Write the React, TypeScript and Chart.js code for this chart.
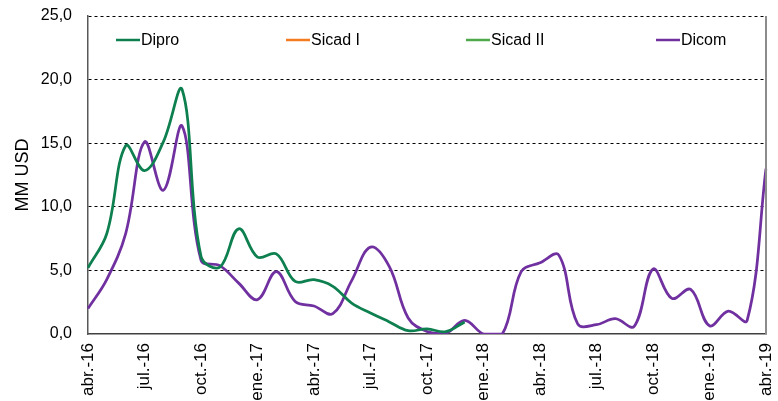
import React, { useEffect, useRef } from "react";
import { Chart, registerables } from "chart.js";

Chart.register(...registerables);

const months = [
  "abr.-16", "may.-16", "jun.-16", "jul.-16", "ago.-16", "sep.-16", "oct.-16", "nov.-16", "dic.-16",
  "ene.-17", "feb.-17", "mar.-17", "abr.-17", "may.-17", "jun.-17", "jul.-17", "ago.-17", "sep.-17",
  "oct.-17", "nov.-17", "dic.-17", "ene.-18", "feb.-18", "mar.-18", "abr.-18", "may.-18", "jun.-18",
  "jul.-18", "ago.-18", "sep.-18", "oct.-18", "nov.-18", "dic.-18", "ene.-19", "feb.-19", "mar.-19",
  "abr.-19",
];

const shownTicks = ["abr.-16", "jul.-16", "oct.-16", "ene.-17", "abr.-17", "jul.-17", "oct.-17", "ene.-18",
  "abr.-18", "jul.-18", "oct.-18", "ene.-19", "abr.-19"];

const dipro: (number | null)[] = [
  5.2, 7.9, 14.8, 12.85, 15.1, 19.2, 6.1, 5.26, 8.27, 6.05, 6.3, 4.13, 4.27, 3.75, 2.43, 1.65, 0.95,
  0.26, 0.4, 0.18, 0.95,
  null, null, null, null, null, null, null, null, null, null, null, null, null, null, null, null,
];

const sicadI: (number | null)[] = [];
const sicadII: (number | null)[] = [];

const dicom: (number | null)[] = [
  2.0, 4.3, 7.9, 15.1, 11.3, 16.35, 5.8, 5.37, 4.0, 2.7, 4.9, 2.56, 2.2, 1.6, 4.2, 6.83, 5.3, 1.26,
  0.2, 0.05, 1.07, 0, 0, 4.9, 5.6, 6.2, 0.8, 0.73, 1.2, 0.6, 5.1, 2.8, 3.5, 0.65, 1.8, 1.07, 13.0,
];

const seriesNames = ["Dipro", "Sicad I", "Sicad II", "Dicom"];
const seriesColors = ["#0E8050", "#F47B20", "#4FA84A", "#7030A0"];

const FONT = "'Liberation Sans', Arial, sans-serif";

const legendPlugin = {
  id: "insideLegend",
  afterDraw(chart: any) {
    const { ctx, chartArea } = chart;
    const offsets = [28, 198, 378, 568];
    const y = chartArea.top + 24;
    ctx.save();
    ctx.strokeStyle = "#8c8c8c";
    ctx.lineWidth = 2;
    ctx.beginPath();
    ctx.moveTo(chartArea.right, chartArea.top);
    ctx.lineTo(chartArea.right, chartArea.bottom);
    ctx.stroke();
    ctx.font = `16px ${FONT}`;
    ctx.textBaseline = "middle";
    ctx.textAlign = "left";
    seriesNames.forEach((name, i) => {
      const x = chartArea.left + offsets[i];
      ctx.strokeStyle = seriesColors[i];
      ctx.lineWidth = 2.5;
      ctx.beginPath();
      ctx.moveTo(x, y);
      ctx.lineTo(x + 24, y);
      ctx.stroke();
      ctx.fillStyle = "#000";
      ctx.fillText(name, x + 25, y + 1);
    });
    ctx.restore();
  },
};

export default function App() {
  const ref = useRef<HTMLCanvasElement>(null);

  useEffect(() => {
    if (!ref.current) return;
    const datasets = [dipro, sicadI, sicadII, dicom].map((d, i) => ({
      label: seriesNames[i],
      data: d,
      borderColor: seriesColors[i],
      backgroundColor: seriesColors[i],
      borderWidth: 2.75,
      pointRadius: 0,
      tension: 0.38,
      spanGaps: false,
      fill: false,
    }));
    const chart = new Chart(ref.current, {
      type: "line",
      data: { labels: months, datasets },
      options: {
        animation: false,
        responsive: false,
        layout: { padding: { top: 16, right: 12, left: 0, bottom: 0 } },
        plugins: { legend: { display: false }, tooltip: { enabled: false } },
        scales: {
          x: {
            type: "category",
            offset: false,
            grid: { display: false, drawTicks: false },
            border: { display: true, color: "#404040", width: 1.5 },
            afterFit: (scale: any) => {
              scale.height = 67;
              scale.paddingLeft = 0;
              scale.paddingRight = 0;
            },
            ticks: {
              autoSkip: false,
              minRotation: 90,
              maxRotation: 90,
              padding: 9,
              color: "#000",
              font: { family: FONT, size: 17 },
              callback: function (this: any, _v: any, i: number) {
                const lab = months[i];
                return shownTicks.includes(lab) ? lab : "";
              },
            },
          },
          y: {
            min: 0,
            max: 25,
            afterFit: (scale: any) => {
              scale.width = 88;
              scale.paddingTop = 0;
              scale.paddingBottom = 0;
            },
            ticks: {
              stepSize: 5,
              padding: 16,
              color: "#000",
              font: { family: FONT, size: 16 },
              callback: (v: any) => Number(v).toFixed(1).replace(".", ","),
            },
            grid: {
              drawTicks: false,
              color: (c: any) => (c.tick && c.tick.value === 0 ? "rgba(0,0,0,0)" : "#000"),
              lineWidth: 1,
            },
            border: { display: true, color: "#595959", width: 1.5, dash: [3, 3] },
            title: {
              display: true,
              text: "MM USD",
              color: "#000",
              font: { family: FONT, size: 18 },
              padding: { top: 12, bottom: 0 },
            },
          },
        },
      },
      plugins: [legendPlugin],
    });
    return () => chart.destroy();
  }, []);

  return (
    <div style={{ position: "absolute", left: 0, top: 0, width: 778, height: 401, background: "#fff" }}>
      <canvas ref={ref} width={778} height={401} />
    </div>
  );
}
